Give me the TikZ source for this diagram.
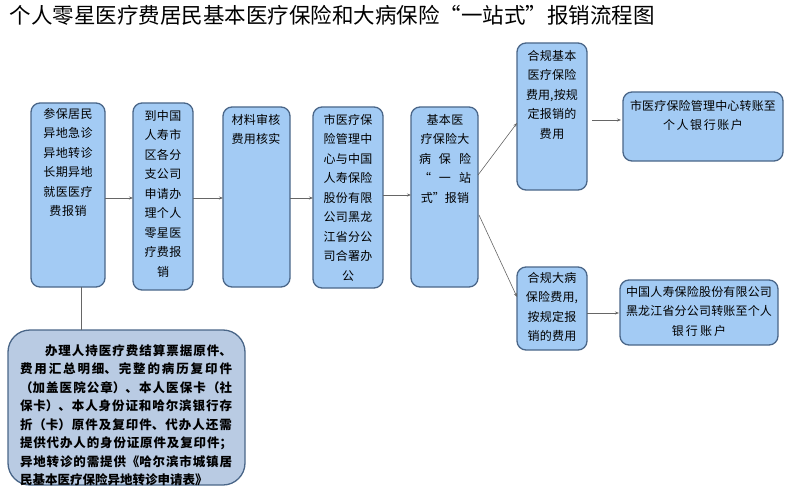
\documentclass[tikz,border=0pt]{standalone}
\usepackage{fontspec}
\setmainfont{Noto Sans CJK SC}
\XeTeXlinebreaklocale "zh"
\XeTeXlinebreakskip=0pt plus 1pt
\usetikzlibrary{arrows.meta}
\definecolor{boxblue}{HTML}{A3CBF4}
\definecolor{boxedge}{HTML}{4A6688}
\definecolor{notefill}{HTML}{B9CBE3}
\tikzset{
  box/.style={draw=boxedge, line width=1.3pt, fill=boxblue, rounded corners=9pt},
  txt/.style={anchor=north, align=center, font=\fontsize{12}{19.5}\selectfont, inner sep=0pt},
  link/.style={draw=gray!80!black, line width=0.6pt, -{Stealth[length=4pt,width=3pt]}}
}
\begin{document}
\begin{tikzpicture}[x=1pt,y=-1pt]
  \useasboundingbox (0,0) rectangle (787,500);
  % title
  \node[anchor=west, font=\fontsize{21.5}{24}\selectfont] (title) at (6,15)
    {个人零星医疗费居民基本医疗保险和大病保险“一站式”报销流程图};

  % boxes
  \draw[box] (31,103) rectangle (105,287);
  \node[txt, text width=66pt] (t1) at (68,108) {参保居民\\异地急诊\\异地转诊\\长期异地\\就医医疗\\费报销};

  \draw[box] (133,103) rectangle (193,290);
  \node[txt, text width=54pt] (t2) at (163,110) {到中国\\人寿市\\区各分\\支公司\\申请办\\理个人\\零星医\\疗费报\\销};

  \draw[box] (223,107) rectangle (290,287);
  \node[txt, text width=60pt] (t3) at (256,114) {材料审核\\费用核实};

  \draw[box] (313,107) rectangle (383,288);
  \node[txt, text width=62pt] (t4) at (348,114) {市医疗保\\险管理中\\心与中国\\人寿保险\\股份有限\\公司黑龙\\江省分公\\司合署办\\公};

  \draw[box] (411,107) rectangle (478,287);
  \node[txt, text width=58pt] (t5) at (445,114) {基本医\\疗保险大\\病\ \ 保\ \ 险\\“\ \ 一\ \ 站\\式”报销};

  \draw[box] (517,43) rectangle (587,190);
  \node[txt, text width=62pt] (t6) at (552,50) {合规基本\\医疗保险\\费用,按规\\定报销的\\费用};

  \draw[box] (623,92) rectangle (783,161);
  \node[txt, text width=154pt] (t7) at (703,100) {市医疗保险管理中心转账至\\个人银行账户};

  \draw[box] (517,267) rectangle (587,350);
  \node[txt, text width=64pt] (t8) at (552,272) {合规大病\\保险费用,\\按规定报\\销的费用};

  \draw[box] (620,280) rectangle (778,345);
  \node[txt, text width=154pt] (t9) at (699,286) {中国人寿保险股份有限公司\\黑龙江省分公司转账至个人\\银行账户};

  \draw[box, fill=notefill, rounded corners=22pt] (8,330) rectangle (245,485);
  \node[txt, text width=212pt, align=justify, font=\bfseries\fontsize{12.5}{18.5}\selectfont] (t10) at (126,344)
    {\hspace*{2em}办理人持医疗费结算票据原件、费用汇总明细、完整的病历复印件（加盖医院公章）、本人医保卡（社保卡）、本人身份证和哈尔滨银行存折（卡）原件及复印件、代办人还需提供代办人的身份证原件及复印件；异地转诊的需提供《哈尔滨市城镇居民基本医疗保险异地转诊申请表》};

  % connectors
  \coordinate (p1) at (105,198); \coordinate (p2) at (133,198);
  \coordinate (p3) at (193,198); \coordinate (p4) at (223,198);
  \coordinate (p5) at (290,198); \coordinate (p6) at (313,198);
  \coordinate (p7) at (383,195); \coordinate (p8) at (411,195);
  \coordinate (p9) at (478,175); \coordinate (p10) at (517,123);
  \coordinate (p11) at (479,215); \coordinate (p12) at (517,297);
  \coordinate (p13) at (592,120); \coordinate (p14) at (621,120);
  \coordinate (p15) at (587,313); \coordinate (p16) at (619,313);
  \coordinate (p17) at (81,287); \coordinate (p18) at (81,330);
  \draw[link] (p1) -- (p2);
  \draw[link] (p3) -- (p4);
  \draw[link] (p5) -- (p6);
  \draw[link] (p7) -- (p8);
  \draw[link] (p9) -- (p10);
  \draw[link] (p11) -- (p12);
  \draw[link] (p13) -- (p14);
  \draw[link] (p15) -- (p16);
  \draw[draw=gray!80!black, line width=0.6pt] (p17) -- (p18);
\end{tikzpicture}
\end{document}
